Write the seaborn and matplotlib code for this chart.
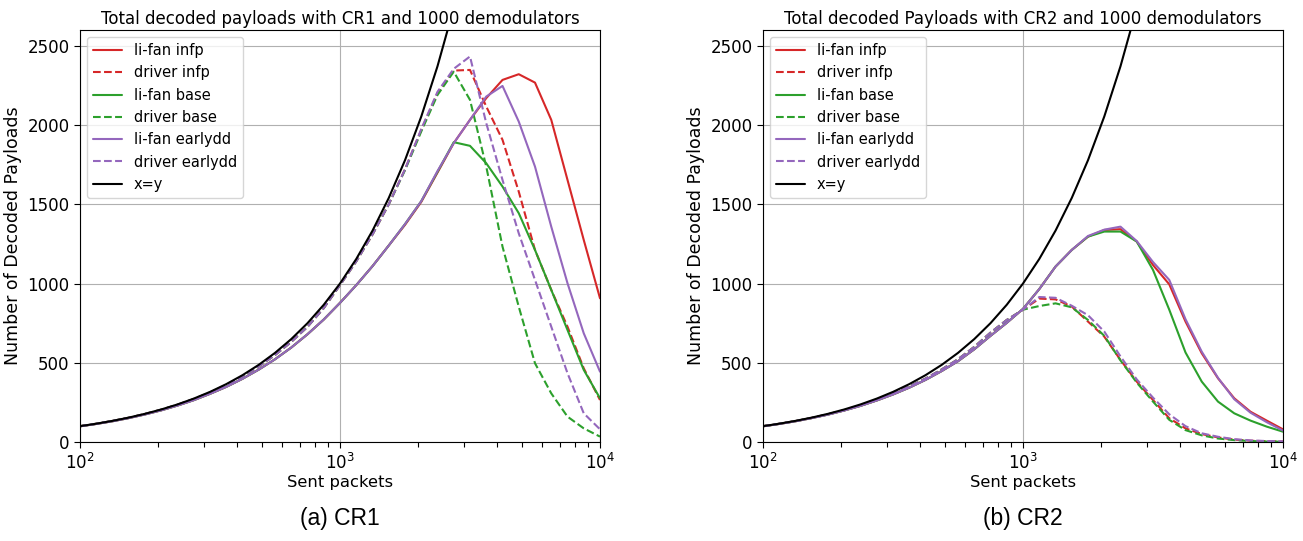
import numpy as np
import matplotlib
matplotlib.use("Agg")
import matplotlib.pyplot as plt
import matplotlib.ticker as mticker
import seaborn as sns

# sent packets: 33 log-spaced points between 1e2 and 1e4
sent = [100, 115.5, 133.4, 154.0, 177.8, 205.4, 237.1, 273.8, 316.2, 365.2,
        421.7, 487.0, 562.3, 649.4, 749.9, 866.0, 1000, 1155, 1334, 1540,
        1778, 2054, 2371, 2738, 3162, 3652, 4217, 4870, 5623, 6494,
        7499, 8660, 10000]

# --- CR1 ---
cr1_lifan_infp = [99, 114, 131, 151, 174, 200, 230, 264, 304, 348, 399, 457, 522, 596,
                  680, 773, 878, 990, 1110, 1240, 1370, 1515, 1700, 1886, 2033, 2170,
                  2285, 2321, 2268, 2033, 1654, 1275, 907]
cr1_driver_infp = [100, 115, 133, 153, 177, 204, 235, 271, 312, 360, 414, 477, 549, 632,
                   727, 845, 990, 1140, 1310, 1500, 1720, 1970, 2200, 2344, 2348, 2117,
                   1907, 1580, 1212, 960, 728, 465, 265]
cr1_lifan_base = [99, 114, 131, 151, 174, 200, 230, 264, 304, 348, 399, 457, 522, 596,
                  680, 773, 878, 990, 1110, 1240, 1375, 1520, 1705, 1892, 1869, 1759,
                  1612, 1444, 1212, 960, 707, 455, 276]
cr1_driver_base = [100, 115, 133, 153, 177, 204, 235, 271, 312, 360, 414, 477, 549, 632,
                   727, 845, 990, 1140, 1310, 1500, 1715, 1960, 2190, 2337, 2159, 1738,
                   1233, 854, 497, 307, 160, 86, 34]
cr1_lifan_earlydd = [99, 114, 131, 151, 174, 200, 230, 264, 304, 348, 399, 457, 522, 596,
                     680, 773, 878, 990, 1110, 1240, 1375, 1520, 1710, 1886, 2033, 2180,
                     2247, 2022, 1738, 1359, 1002, 686, 444]
cr1_driver_earlydd = [100, 115, 133, 153, 177, 204, 235, 271, 312, 360, 414, 477, 549, 632,
                      727, 845, 990, 1140, 1310, 1500, 1720, 1975, 2210, 2355, 2433, 2012,
                      1654, 1317, 1023, 728, 434, 181, 80]

# --- CR2 ---
cr2_lifan_infp = [99, 114, 131, 151, 173, 199, 228, 262, 300, 343, 392, 448, 510, 585,
                  670, 752, 840, 965, 1107, 1212, 1296, 1338, 1343, 1265, 1117, 995,
                  760, 560, 402, 276, 191, 135, 80]
cr2_driver_infp = [100, 115, 132, 152, 175, 201, 231, 266, 305, 350, 400, 458, 522, 600,
                   690, 770, 835, 905, 900, 855, 760, 665, 518, 381, 265, 150,
                   86, 50, 29, 15, 8, 5, 3]
cr2_lifan_base = [99, 114, 131, 151, 173, 199, 228, 262, 300, 343, 392, 448, 510, 585,
                  670, 752, 840, 965, 1107, 1212, 1296, 1328, 1328, 1265, 1086, 835,
                  565, 381, 255, 181, 135, 97, 65]
cr2_driver_base = [100, 115, 132, 152, 175, 201, 231, 266, 305, 350, 400, 458, 522, 600,
                   690, 770, 835, 858, 875, 850, 770, 670, 515, 375, 255, 140,
                   75, 42, 22, 12, 6, 3, 2]
cr2_lifan_earlydd = [99, 114, 131, 151, 173, 199, 228, 262, 300, 343, 392, 448, 510, 585,
                     670, 752, 840, 965, 1107, 1212, 1300, 1340, 1359, 1268, 1136, 1023,
                     775, 570, 405, 270, 185, 125, 72]
cr2_driver_earlydd = [100, 115, 132, 152, 175, 201, 231, 266, 305, 350, 400, 458, 522, 600,
                      690, 770, 835, 915, 910, 860, 800, 697, 540, 395, 280, 175,
                      100, 55, 33, 18, 10, 6, 4]

titles = ["Total decoded payloads with CR1 and 1000 demodulators",
          "Total decoded Payloads with CR2 and 1000 demodulators"]
captions = ["(a) CR1", "(b) CR2"]

sns.set_style("ticks")
plt.rcParams["font.family"] = ["DejaVu Sans"]
plt.rcParams.update({"text.color": "black", "axes.labelcolor": "black",
                     "xtick.color": "black", "ytick.color": "black",
                     "xtick.minor.visible": True, "ytick.minor.visible": False,
                     "xtick.minor.size": 3.5, "xtick.minor.width": 0.8,
                     "xtick.major.size": 4, "ytick.major.size": 4})

fig = plt.figure(figsize=(13.03, 5.41), dpi=100)
ax1 = fig.add_axes([80 / 1303, 99 / 541, 520 / 1303, 412 / 541])
ax2 = fig.add_axes([763 / 1303, 99 / 541, 520 / 1303, 412 / 541])

panels = [
    (ax1, [cr1_lifan_infp, cr1_driver_infp, cr1_lifan_base, cr1_driver_base,
           cr1_lifan_earlydd, cr1_driver_earlydd]),
    (ax2, [cr2_lifan_infp, cr2_driver_infp, cr2_lifan_base, cr2_driver_base,
           cr2_lifan_earlydd, cr2_driver_earlydd]),
]
labels = ["li-fan infp", "driver infp", "li-fan base", "driver base",
          "li-fan earlydd", "driver earlydd"]
colors = ["tab:red", "tab:red", "tab:green", "tab:green", "tab:purple", "tab:purple"]
styles = ["-", "--", "-", "--", "-", "--"]

for i, (ax, series) in enumerate(panels):
    ax.set_xscale("log")
    for vals, lab, col, ls in zip(series, labels, colors, styles):
        sns.lineplot(x=sent, y=vals, ax=ax, color=col, linestyle=ls, label=lab, linewidth=1.5)
    sns.lineplot(x=sent, y=sent, ax=ax, color="black", label="x=y", linewidth=1.5)
    ax.set_xlim(100, 10000)
    ax.set_ylim(0, 2600)
    ax.set_yticks([0, 500, 1000, 1500, 2000, 2500])
    ax.xaxis.set_major_locator(mticker.LogLocator(base=10))
    ax.xaxis.set_minor_locator(mticker.LogLocator(base=10, subs=np.arange(2, 10), numticks=20))
    ax.xaxis.set_minor_formatter(mticker.NullFormatter())
    ax.tick_params(axis="x", which="minor", length=3.5, width=0.8, color="black",
                   bottom=True, direction="out")
    ax.tick_params(which="major", labelsize=12)
    ax.grid(True, which="major", color="#b0b0b0", linewidth=0.8)
    ax.set_title(titles[i], fontsize=12, pad=4)
    ax.set_xlabel("Sent packets", fontsize=11.8, labelpad=2)
    ax.set_ylabel("Number of Decoded Payloads", fontsize=12.5)
    ax.legend(loc="upper left", fontsize=10.5, frameon=True)
    for sp in ax.spines.values():
        sp.set_visible(True)
        sp.set_color("black")
    fig.text((80 + 260) / 1303 if i == 0 else (763 + 260) / 1303, 0.02, captions[i],
             ha="center", va="bottom", fontsize=16.5, family=["Liberation Sans"])

fig.savefig("out.png", dpi=100)
